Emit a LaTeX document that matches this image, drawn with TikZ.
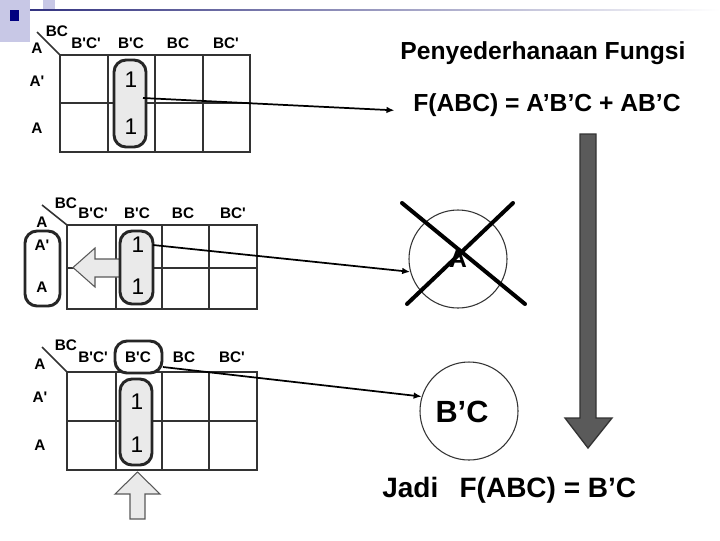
\documentclass[tikz,border=0pt]{standalone}
\usepackage{fontspec}
\setmainfont{Liberation Sans}
\usetikzlibrary{arrows.meta}
\definecolor{lav}{HTML}{C8C8E6}
\definecolor{navy}{HTML}{000080}
\definecolor{gridc}{HTML}{333333}
\definecolor{loopfill}{HTML}{EAEAEA}
\definecolor{bigarrow}{HTML}{5A5A5A}
\newcommand{\sq}{\textquotesingle}
\tikzset{
  gridline/.style={draw=gridc, line width=2.2pt},
  loopbox/.style={draw=black!85, line width=2.2pt, rounded corners=9pt},
  lbl/.style={font=\fontsize{11.5}{13}\selectfont\bfseries, inner sep=0pt},
  one/.style={font=\fontsize{17}{19}\selectfont, inner sep=0pt},
  bigtxt/.style={font=\fontsize{18.5}{21}\selectfont\bfseries, inner sep=0pt},
  conn/.style={draw=black, line width=1.3pt, -{Latex[length=6pt,width=5pt]}},
  hollow/.style={draw=black!65, line width=0.8pt, fill=loopfill},
  ring/.style={draw=black!80, line width=0.8pt, circle, minimum size=73.5pt, inner sep=0pt},
  cross/.style={draw=black, line width=3pt, line cap=round},
}
\begin{document}
\begin{tikzpicture}[x=0.75pt,y=-0.75pt]
\useasboundingbox (0,0) rectangle (720,540);
% slide decoration
\fill[lav] (0,0) rectangle (30,42);
\fill[lav] (43,0) rectangle (55,10);
\fill[navy] (10,10) rectangle (19,21);
\shade[left color=navy!60!gray, right color=white] (30,9.6) rectangle (720,10.6);

% ---------- grid 1 ----------
\draw[gridline] (60,55) rectangle (250,152);
\draw[gridline] (108,55) -- (108,152) (155,55) -- (155,152) (203,55) -- (203,152);
\draw[gridline] (60,103) -- (250,103);
\draw[line width=1.2pt, gridc] (37,32) -- (60,55);
\node[lbl] (g1bc) at (57,31) {BC};
\node[lbl] (g1h1) at (86,43) {B\sq C\sq};
\node[lbl] (g1h2) at (131,43) {B\sq C};
\node[lbl] (g1h3) at (178,43) {BC};
\node[lbl] (g1h4) at (226,43) {BC\sq};
\node[lbl] (g1a) at (37,48) {A};
\node[lbl] (g1r1) at (37,81) {A\sq};
\node[lbl] (g1r2) at (37,128) {A};
\draw[loopbox, fill=loopfill] (114,60) rectangle (146,147);
\node[one] (g1o1) at (131,80) {1};
\node[one] (g1o2) at (131,127) {1};
\coordinate (s1) at (143,98);

% ---------- grid 2 ----------
\draw[gridline] (67,225) rectangle (257,309);
\draw[gridline] (116,225) -- (116,309) (162,225) -- (162,309) (209,225) -- (209,309);
\draw[gridline] (67,268) -- (257,268);
\draw[line width=1.2pt, gridc] (42,205) -- (67,225);
\node[lbl] (g2bc) at (66,203) {BC};
\node[lbl] (g2h1) at (93,213) {B\sq C\sq};
\node[lbl] (g2h2) at (137,213) {B\sq C};
\node[lbl] (g2h3) at (183,213) {BC};
\node[lbl] (g2h4) at (233,213) {BC\sq};
\node[lbl] (g2a) at (42,222) {A};
\draw[loopbox] (25,231) rectangle (60,306);
\node[lbl] (g2r1) at (42,245) {A\sq};
\node[lbl] (g2r2) at (42,287) {A};
\draw[hollow] (121,259) -- (95,259) -- (95,248) -- (73,267.5) -- (95,287) -- (95,277) -- (121,277) -- cycle;
\draw[loopbox, fill=loopfill] (120,231) rectangle (153,304);
\node[one] (g2o1) at (138,245) {1};
\node[one] (g2o2) at (138,287) {1};
\coordinate (s2) at (153,245);

% ---------- grid 3 ----------
\draw[gridline] (67,372) rectangle (257,470);
\draw[gridline] (116,372) -- (116,470) (162,372) -- (162,470) (209,372) -- (209,470);
\draw[gridline] (67,421) -- (257,421);
\draw[line width=1.2pt, gridc] (42,347) -- (67,372);
\draw[loopbox, fill=white] (115,341) rectangle (162,373);
\node[lbl] (g3bc) at (66,345) {BC};
\node[lbl] (g3h1) at (93,357) {B\sq C\sq};
\node[lbl] (g3h2) at (138,357) {B\sq C};
\node[lbl] (g3h3) at (184,357) {BC};
\node[lbl] (g3h4) at (232,357) {BC\sq};
\node[lbl] (g3a) at (40,364) {A};
\node[lbl] (g3r1) at (40,397) {A\sq};
\node[lbl] (g3r2) at (40,445) {A};
\draw[loopbox, fill=loopfill] (120,379) rectangle (152,465);
\node[one] (g3o1) at (137,402) {1};
\node[one] (g3o2) at (137,445) {1};
\draw[hollow] (130,519) -- (130,494) -- (115,494) -- (137.5,472) -- (160,494) -- (145,494) -- (145,519) -- cycle;
\coordinate (s3) at (163,367);

% ---------- right side ----------
\node[bigtxt] (title) at (543,53) {Penyederhanaan Fungsi};
\node[bigtxt] (f1) at (547,105) {F(ABC) = A’B’C + AB’C};
\node[ring] (cA) at (458,259) {};
\node[bigtxt] (tA) at (458,259) {A};
\draw[cross] (402,203) -- (525,304);
\draw[cross] (513,203) -- (407,304);
\node[ring] (cB) at (469,411) {};
\node[font=\fontsize{23}{26}\selectfont\bfseries, inner sep=0pt] (tB) at (462,412) {B’C};
\node[font=\fontsize{21}{24}\selectfont\bfseries, inner sep=0pt, anchor=west] (res) at (382,490) {Jadi\hspace{16pt}F(ABC) = B’C};

% big down arrow
\draw[fill=bigarrow, draw=gridc, line width=1pt]
  (580,134) -- (596,134) -- (596,418) -- (612,418) -- (588,448) -- (565,418) -- (580,418) -- cycle;

% connectors
\draw[conn] (s1) -- ([xshift=-14pt,yshift=-4pt]f1.west);
\draw[conn] (s2) -- (cA.195);
\draw[conn] (s3) -- (cB.163);
\end{tikzpicture}
\end{document}
